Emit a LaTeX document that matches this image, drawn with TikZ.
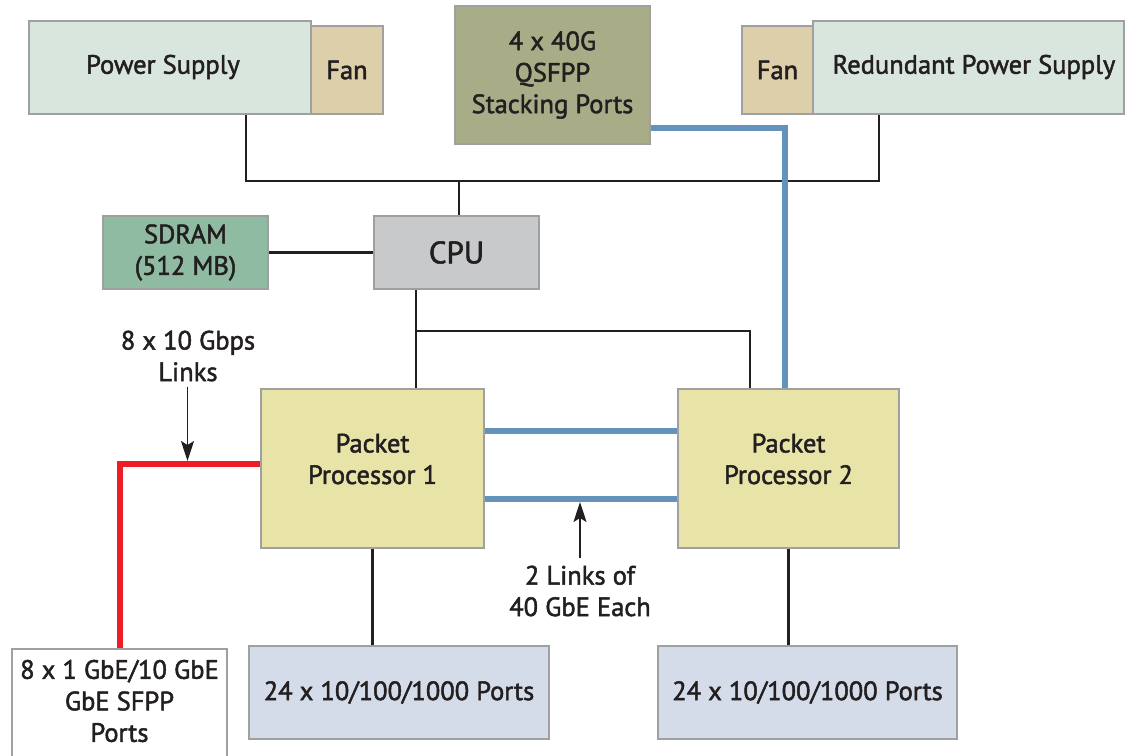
\documentclass[tikz,border=0pt]{standalone}
\usepackage{fontspec}
\setmainfont{PT Sans}
\newfontfamily\lbfam{PT Sans}[FakeBold=1.8]
\usetikzlibrary{arrows.meta,calc}
\definecolor{psfill}{HTML}{D9E6DE}
\definecolor{fanfill}{HTML}{DCCFAA}
\definecolor{stfill}{HTML}{A8AD88}
\definecolor{sdfill}{HTML}{8FBBA2}
\definecolor{cpufill}{HTML}{C8C9CB}
\definecolor{ppfill}{HTML}{E8E4A8}
\definecolor{portfill}{HTML}{D3DCE8}
\definecolor{bordc}{HTML}{A0A0A0}
\definecolor{linkblue}{HTML}{6393BB}
\definecolor{linkred}{HTML}{EE1C25}
\definecolor{ink}{HTML}{231F20}
\newcommand{\lbfont}{\lbfam\fontsize{26.5}{31.5}\selectfont}
\tikzset{
  box/.style={draw=bordc, line width=2pt, inner sep=0pt, text=ink, align=center, font=\lbfont},
  txt/.style={text=ink, align=center, inner sep=0pt, font=\lbfont},
  wire/.style={draw=ink, line width=2.2pt},
  bluelink/.style={draw=linkblue, line width=6pt},
  redlink/.style={draw=linkred, line width=6pt},
  pointer/.style={draw=ink, line width=1.5pt, -{Stealth[length=20pt,width=13pt,inset=4pt]}},
}
\begin{document}
\begin{tikzpicture}[x=1pt,y=-1pt]
\useasboundingbox (0,0) rectangle (1126,755);
% boxes
\node[box, fill=fanfill, minimum width=72pt, minimum height=88pt] (fan1) at (347,70) {Fan};
\node[box, fill=psfill, minimum width=282pt, minimum height=93pt] (ps) at (170,67.5) {};
\node[txt] (pst) at (163,67) {Power Supply};
\node[box, fill=stfill, minimum width=195pt, minimum height=138pt] (stack) at (552.5,75) {4 x 40G\\QSFPP\\Stacking Ports};
\node[box, fill=fanfill, minimum width=71pt, minimum height=88pt] (fan2) at (777.5,70) {Fan};
\node[box, fill=psfill, minimum width=311pt, minimum height=93pt] (rps) at (968.5,67.5) {};
\node[txt] (rpst) at (974,67) {Redundant Power Supply};
\node[box, fill=sdfill, minimum width=165pt, minimum height=73pt] (sdram) at (185.5,252.5) {SDRAM\\(512 MB)};
\node[box, fill=cpufill, minimum width=165pt, minimum height=73pt, font=\lbfam\fontsize{31}{31}\selectfont] (cpu) at (456.5,252.5) {CPU};
\node[box, fill=ppfill, minimum width=223pt, minimum height=159pt] (pp1) at (372.5,468.5) {};
\node[txt] (pp1t) at (372.5,459) {Packet\\Processor 1};
\node[box, fill=ppfill, minimum width=221pt, minimum height=159pt] (pp2) at (788.5,468.5) {};
\node[txt] (pp2t) at (788.5,459) {Packet\\Processor 2};
\node[box, fill=portfill, minimum width=300pt, minimum height=93pt] (port1) at (399,692.5) {24 x 10/100/1000 Ports};
\node[box, fill=portfill, minimum width=299pt, minimum height=93pt] (port2) at (807.5,692.5) {24 x 10/100/1000 Ports};
\node[box, fill=white, minimum width=215pt, minimum height=120pt, anchor=north] (sfpp) at (119.5,648) {};
\node[txt] (sfppt) at (119.5,701) {8 x 1 GbE/10 GbE\\GbE SFPP\\Ports};
% labels
\node[txt] (lbl1) at (188,356) {8 x 10 Gbps\\Links};
\node[txt] (lbl2) at (580,591) {2 Links of\\40 GbE Each};
% coordinates
\coordinate (b1) at (246,181);
\coordinate (b2) at (879,181);
\coordinate (b3) at (459,181);
\coordinate (c1) at (416,331);
\coordinate (c2) at (750,331);
\coordinate (s1) at (785,128);
\coordinate (l1) at (580,431);
\coordinate (l2) at (580,499);
\coordinate (r1) at (120,464);
\coordinate (r2) at (187.5,464);
% wires
\draw[wire] (ps.south -| b1) -- (b1) -- (b2) -- (rps.south -| b2);
\draw[wire] (b3) -- (cpu.north -| b3);
\draw[wire] (sdram.east) -- (cpu.west);
\draw[wire] (cpu.south -| c1) -- (pp1.north -| c1);
\draw[wire] (c1) -- (c2) -- (pp2.north -| c2);
\draw[wire] (pp1.south) -- (port1.north -| pp1.south);
\draw[wire] (pp2.south) -- (port2.north -| pp2.south);
\draw[bluelink] (stack.east |- s1) -- (s1) -- (pp2.north -| s1);
\draw[bluelink] (pp1.east |- l1) -- (pp2.west |- l1);
\draw[bluelink] (pp1.east |- l2) -- (pp2.west |- l2);
\draw[redlink] (pp1.west |- r1) -- (r1) -- (sfpp.north -| r1);
% pointers
\draw[pointer, shorten <=5pt, shorten >=3pt] (lbl1.south -| r2) -- (r2);
\draw[pointer, shorten <=7pt, shorten >=3pt] (lbl2.north -| l2) -- (l2);
\end{tikzpicture}
\end{document}
